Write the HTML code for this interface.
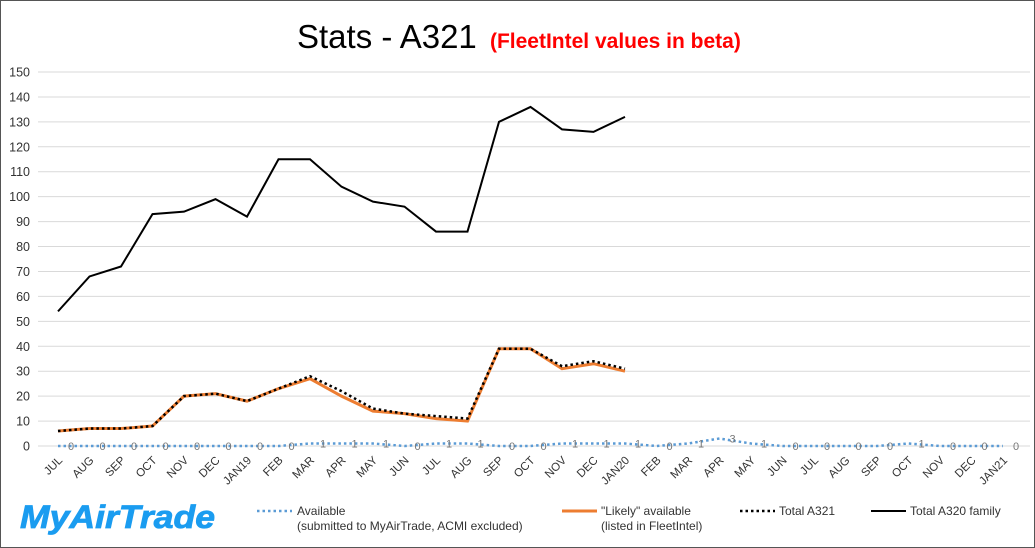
<!DOCTYPE html>
<html><head><meta charset="utf-8"><style>
body{margin:0;background:#fff;}
svg{display:block;font-family:"Liberation Sans",sans-serif;}
</style></head><body>
<svg width="1035" height="548" viewBox="0 0 1035 548" xmlns="http://www.w3.org/2000/svg">
<rect x="0.5" y="0.5" width="1034" height="547" fill="#fff" stroke="#555" stroke-width="1"/>
<text x="297" y="48" font-size="33" fill="#000">Stats - A321 <tspan font-size="21" font-weight="bold" fill="#ff0000" dx="4">(FleetIntel values in beta)</tspan></text>
<g id="grid" stroke="#d9d9d9" stroke-width="1"></g>
<g id="ylab" font-size="12.5" fill="#333" text-anchor="end"></g>
<g id="xlab" font-size="11.5" fill="#333" text-anchor="end"></g>
<g id="series"></g>
<g id="dlab" font-size="11" fill="#777"></g>
<text x="20" y="528" font-size="32" font-weight="900" font-style="italic" fill="#1a9cf0" textLength="195" lengthAdjust="spacingAndGlyphs" stroke="#1a9cf0" stroke-width="0.8">MyAirTrade</text>
<g font-size="12" fill="#333">
<line x1="257" y1="511" x2="292" y2="511" stroke="#5b9bd5" stroke-width="2.5" stroke-dasharray="2.5,3"/>
<text x="297" y="515">Available</text>
<text x="297" y="530">(submitted to MyAirTrade, ACMI excluded)</text>
<line x1="562" y1="511" x2="597" y2="511" stroke="#ed7d31" stroke-width="3"/>
<text x="601" y="515">"Likely" available</text>
<text x="601" y="530">(listed in FleetIntel)</text>
<line x1="740" y1="511" x2="775" y2="511" stroke="#000" stroke-width="2.5" stroke-dasharray="2.5,3"/>
<text x="779" y="515">Total A321</text>
<line x1="871" y1="511" x2="906" y2="511" stroke="#000" stroke-width="2"/>
<text x="910" y="515">Total A320 family</text>
</g>
</svg>
<script>
const ns="http://www.w3.org/2000/svg";
const X=i=>58+i*31.5, Y=v=>446-v*2.4933;
function el(p,t,a,txt){const e=document.createElementNS(ns,t);for(const k in a)e.setAttribute(k,a[k]);if(txt!==undefined)e.textContent=txt;document.getElementById(p).appendChild(e);return e;}
for(let v=0;v<=150;v+=10){el("grid","line",{x1:38,x2:1030,y1:Y(v),y2:Y(v)});el("ylab","text",{x:30,y:Y(v)+4.5},v);}
const cats=["JUL","AUG","SEP","OCT","NOV","DEC","JAN19","FEB","MAR","APR","MAY","JUN","JUL","AUG","SEP","OCT","NOV","DEC","JAN20","FEB","MAR","APR","MAY","JUN","JUL","AUG","SEP","OCT","NOV","DEC","JAN21"];
cats.forEach((c,i)=>el("xlab","text",{x:X(i)+5,y:461,transform:`rotate(-45 ${X(i)+5} 461)`},c));
const a320=[54,68,72,93,94,99,92,115,115,104,98,96,86,86,130,136,127,126,132];
const tot=[6,7,7,8,20,21,18,23,28,22,15,13,12,11,39,39,32,34,31];
const lik=[6,7,7,8,20,21,18,23,27,20,14,13,11,10,39,39,31,33,30];
const av=[0,0,0,0,0,0,0,0,1,1,1,0,1,1,0,0,1,1,1,0,1,3,1,0,0,0,0,1,0,0,0];
const pts=d=>d.map((v,i)=>X(i)+","+Y(v)).join(" ");
el("series","polyline",{points:pts(av),fill:"none",stroke:"#5b9bd5","stroke-width":2.5,"stroke-dasharray":"2.5,3"});
el("series","polyline",{points:pts(a320),fill:"none",stroke:"#000","stroke-width":2});
el("series","polyline",{points:pts(lik),fill:"none",stroke:"#ed7d31","stroke-width":3});
el("series","polyline",{points:pts(tot),fill:"none",stroke:"#000","stroke-width":2.5,"stroke-dasharray":"2.5,3"});
av.forEach((v,i)=>el("dlab","text",{x:X(i)+10,y:Y(v)+4},v));
</script>
</body></html>
